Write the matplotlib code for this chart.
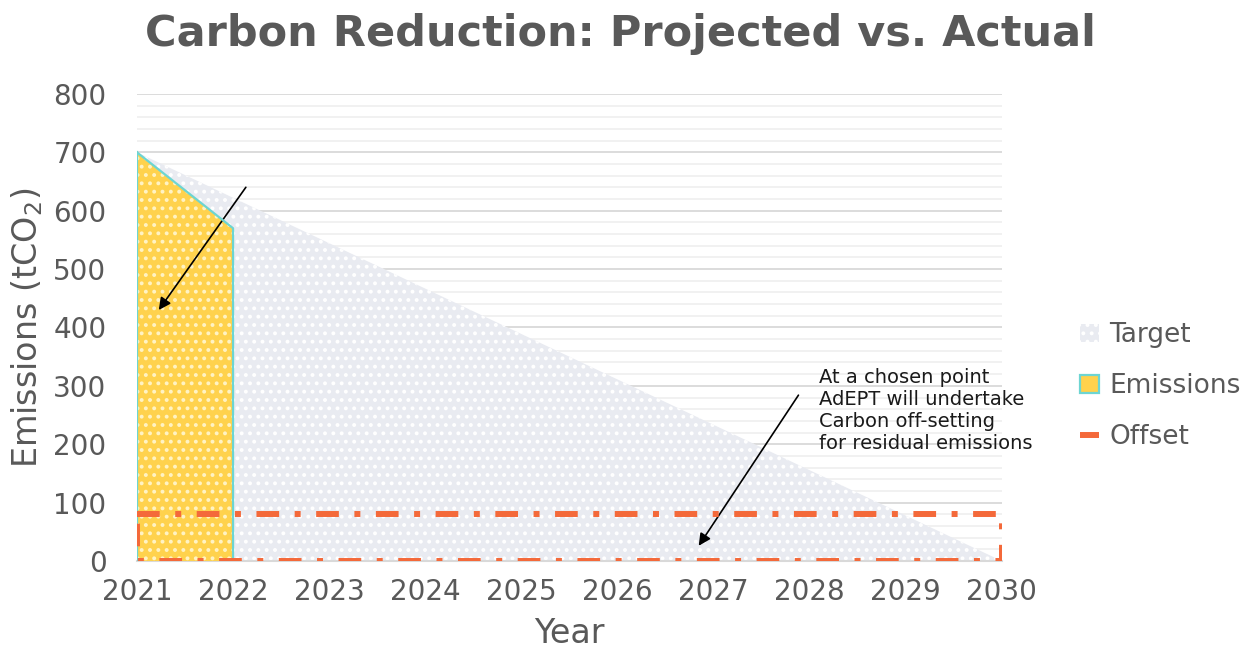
import matplotlib
matplotlib.use('Agg')
import matplotlib.pyplot as plt
from matplotlib.patches import Patch
from matplotlib.lines import Line2D

plt.rcParams['font.family'] = ['DejaVu Sans']
plt.rcParams['mathtext.default'] = 'regular'
plt.rcParams['hatch.linewidth'] = 1.6

# data
years = [2021, 2022, 2023, 2024, 2025, 2026, 2027, 2028, 2029, 2030]
target_x = [2021, 2030]
target_y = [700, 0]
emis_x = [2021, 2022]
emis_y = [700, 570]
offset_x = [2021, 2030, 2030, 2021, 2021]
offset_y = [80, 80, 0, 0, 80]

grey = '#595959'
orange = '#F4693A'
teal = '#6DD5D2'
dashdot = (0, (3.8, 2.6, 1, 2.6))

fig = plt.figure(figsize=(12.53, 6.66), dpi=100)
ax = fig.add_axes([0.1093, 0.1577, 0.6902, 0.7012])

# target area
ax.fill_between(target_x, target_y, 0, facecolor='#E9EBF1', edgecolor='white',
                hatch='..', linewidth=0, zorder=2)
# emissions area
ax.fill_between(emis_x, emis_y, 0, facecolor='#FFD24D', edgecolor='#FFF3C4',
                hatch='..', linewidth=0, zorder=3)
ax.plot(emis_x + [2022], emis_y + [0], color=teal, lw=1.6, zorder=4)
ax.plot([2021, 2021], [0, 700], color=teal, lw=1.6, zorder=4)

# offset box
ax.plot(offset_x, offset_y, color=orange, lw=4.3, linestyle=dashdot,
        zorder=5, dash_capstyle='butt')

ax.set_xlim(2021, 2030)
ax.set_ylim(0, 800)
ax.set_xticks(years)
ax.set_yticks(range(0, 801, 100))
ax.set_yticks(range(0, 801, 20), minor=True)
ax.grid(True, which='major', axis='y', color='#D9D9D9', lw=1.3, zorder=0)
ax.grid(True, which='minor', axis='y', color='#F0F0F0', lw=1.3, zorder=0)
ax.set_axisbelow(True)
for s in ['top', 'right', 'left']:
    ax.spines[s].set_visible(False)
ax.spines['bottom'].set_color('#D9D9D9')
ax.spines['bottom'].set_linewidth(1.5)
ax.tick_params(which='both', length=0, labelsize=20, colors=grey, pad=12)
ax.tick_params(axis='y', pad=22)

ax.set_xlabel('Year', fontsize=24, color=grey, labelpad=8)
ax.set_ylabel('Emissions (tCO$_2$)', fontsize=24, color=grey, labelpad=6)

fig.suptitle('Carbon Reduction: Projected vs. Actual', fontsize=31, fontweight='bold',
             color=grey, x=0.495, y=0.98)

# annotations
ax.annotate('', xy=(2021.21, 426), xytext=(2022.15, 644),
            arrowprops=dict(arrowstyle='-|>', color='black', lw=1.2, mutation_scale=18))
ax.annotate('', xy=(2026.83, 22), xytext=(2027.9, 288),
            arrowprops=dict(arrowstyle='-|>', color='black', lw=1.2, mutation_scale=18))
ax.text(2028.1, 330, 'At a chosen point\nAdEPT will undertake\nCarbon off-setting\nfor residual emissions',
        fontsize=14, color='#1a1a1a', va='top', ha='left', linespacing=1.2, zorder=6)

handles = [
    Patch(facecolor='#E9EBF1', edgecolor='white', hatch='..', lw=0),
    Patch(facecolor='#FFD24D', edgecolor=teal, lw=1.6),
    Line2D([0], [0], color=orange, lw=4.3, linestyle=dashdot),
]
leg = fig.legend(handles, ['Target', 'Emissions', 'Offset'], loc='center left',
                 bbox_to_anchor=(0.862, 0.42), frameon=False, fontsize=19,
                 handlelength=0.7, handleheight=0.7, handletextpad=0.4,
                 labelspacing=0.95, borderaxespad=0, borderpad=0)
for t in leg.get_texts():
    t.set_color(grey)

fig.savefig('out.png', dpi=100)
